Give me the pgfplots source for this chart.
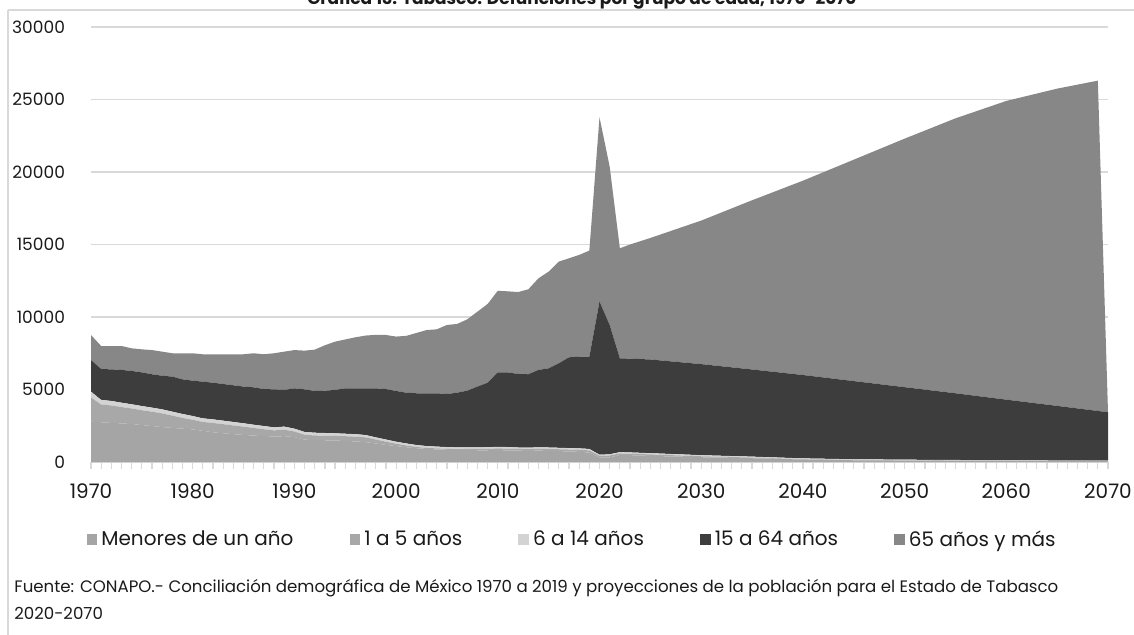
\documentclass[border=0pt]{standalone}
\usepackage{pgfplots}
\pgfplotsset{compat=1.18}
\usepackage{pgfplotstable}
\usepackage{fontspec}
\setmainfont{Poppins}

\definecolor{cMen}{HTML}{A5A5A5}
\definecolor{cUno}{HTML}{A8A8A8}
\definecolor{cSeis}{HTML}{D3D3D3}
\definecolor{cQuin}{HTML}{3D3D3D}
\definecolor{cSes}{HTML}{878787}
\definecolor{lineas}{HTML}{D9D9D9}
\definecolor{texto}{HTML}{1A1A1A}

% defunciones por grupo de edad
\pgfplotstableread{
year men uno seis quin ses
1970 2780 1670 400 2180 1730
1971 2740 1220 320 2130 1590
1972 2700 1200 310 2180 1610
1973 2660 1130 300 2260 1650
1974 2620 1070 290 2300 1560
1975 2550 1020 290 2320 1590
1976 2480 990 280 2300 1670
1977 2410 940 280 2320 1660
1978 2350 850 270 2420 1610
1979 2300 740 270 2390 1800
1980 2250 660 260 2440 1890
1981 2150 610 250 2530 1890
1982 2050 640 250 2530 1960
1983 1980 630 240 2530 2050
1984 1920 600 240 2530 2140
1985 1870 570 230 2530 2230
1986 1820 530 220 2580 2350
1987 1790 470 220 2550 2400
1988 1760 420 210 2620 2490
1989 1780 450 210 2530 2640
1990 1720 380 200 2780 2640
1991 1540 340 190 2940 2670
1992 1520 310 190 2880 2850
1993 1500 320 180 2920 3130
1994 1480 320 180 2990 3330
1995 1450 330 170 3130 3370
1996 1420 330 170 3160 3520
1997 1370 330 160 3220 3640
1998 1280 270 150 3380 3690
1999 1180 220 150 3480 3730
2000 1100 160 140 3500 3750
2001 1020 120 140 3500 3920
2002 950 90 130 3570 4160
2003 900 70 130 3640 4360
2004 870 70 120 3680 4410
2005 840 70 120 3660 4760
2006 830 60 120 3770 4740
2007 820 80 110 3910 4920
2008 810 90 110 4190 5170
2009 810 100 110 4450 5430
2010 820 120 110 5130 5630
2011 800 120 110 5150 5590
2012 780 120 100 5070 5650
2013 770 120 100 5060 5860
2014 780 130 100 5340 6320
2015 770 130 100 5460 6670
2016 750 130 100 5830 7010
2017 730 130 100 6260 6830
2018 700 140 100 6320 7020
2019 650 150 100 6360 7320
2020 320 100 80 10560 12710
2021 320 130 80 8920 10920
2022 480 110 90 6470 7590
2023 470 100 90 6470 7870
2025 420 105 85 6460 8380
2030 330 65 75 6280 9900
2035 260 45 65 6010 11670
2040 170 25 55 5750 13400
2045 120 20 50 5390 15270
2050 95 20 45 5000 17140
2055 80 20 40 4600 18960
2060 70 15 35 4180 20600
2065 60 10 30 3770 21880
2069 55 10 30 3425 22780
2070 55 5 30 3340 0
}\datos

\begin{document}
\begin{tikzpicture}
\useasboundingbox (0,0) rectangle (567pt,-317.5pt);
\begin{scope}[x=0.5pt,y=-0.5pt]
  \draw[lineas, line width=0.6pt] (8,10) -- (1134,10);
  \draw[lineas, line width=0.6pt] (8,10) -- (8,640);
  \node[anchor=base, text=texto, font=\bfseries\fontsize{8.5}{10}\selectfont] at (582,5)
    {Gráfica 13. Tabasco: Defunciones por grupo de edad, 1970-2070};
  \node[anchor=base west, inner sep=0pt, text=texto, font=\fontsize{8.3}{10}\selectfont] at (14,592)
    {Fuente: CONAPO.- Conciliación demográfica de México 1970 a 2019 y proyecciones de la población para el Estado de Tabasco};
  \node[anchor=base west, inner sep=0pt, text=texto, font=\fontsize{8.3}{10}\selectfont] at (14,619)
    {2020-2070};
\end{scope}
\begin{axis}[
  at={(45.5pt,-231pt)}, anchor=south west,
  scale only axis, width=508.5pt, height=217.5pt,
  xmin=1970, xmax=2070, ymin=0, ymax=30000,
  stack plots=y,
  axis x line*=bottom, axis y line*=left,
  y axis line style={draw=none},
  x axis line style={draw=lineas, line width=0.8pt},
  xtick={1970,1980,...,2070}, minor x tick num=9,
  ytick={0,5000,...,30000},
  ymajorgrids, grid style={draw=lineas, line width=0.9pt},
  tick align=outside, major tick length=3.5pt, minor tick length=3.5pt,
  xtick style={draw=lineas, line width=0.6pt},
  minor x tick style={draw=lineas, line width=0.6pt},
  ytick style={draw=none},
  scaled y ticks=false,
  /pgf/number format/1000 sep={},
  /pgf/number format/assume math mode=true,
  xticklabel style={font=\fontsize{10}{12}\selectfont, text=texto, yshift=-4pt},
  yticklabel style={font=\fontsize{8.5}{10}\selectfont, text=texto, xshift=-6pt},
  legend columns=5,
  legend style={at={(0.474,-0.179)}, anchor=center, draw=none, fill=none,
    font=\fontsize{10}{12}\selectfont, text=texto,
    /tikz/every even column/.append style={column sep=26pt}},
  legend image code/.code={\fill[#1] (0pt,-2.7pt) rectangle (5.4pt,2.7pt);},
]
\addplot[fill=cMen, draw=none] table[x=year, y=men] {\datos} \closedcycle;
\addplot[fill=cUno, draw=none] table[x=year, y=uno] {\datos} \closedcycle;
\addplot[fill=cSeis, draw=none] table[x=year, y=seis] {\datos} \closedcycle;
\addplot[fill=cQuin, draw=none] table[x=year, y=quin] {\datos} \closedcycle;
\addplot[fill=cSes, draw=none] table[x=year, y=ses] {\datos} \closedcycle;
\legend{Menores de un año, 1 a 5 años, 6 a 14 años, 15 a 64 años, 65 años y más}
\end{axis}
\end{tikzpicture}
\end{document}
